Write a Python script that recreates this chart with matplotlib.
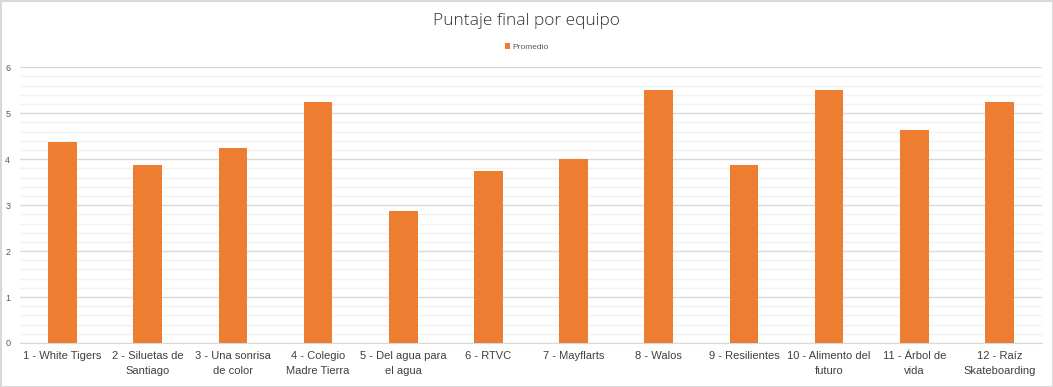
import matplotlib
matplotlib.use("Agg")
import matplotlib.pyplot as plt
from matplotlib.ticker import MultipleLocator
from matplotlib.patches import Rectangle

categories = ["1 - White Tigers", "2 - Siluetas de\nSantiago", "3 - Una sonrisa\nde color",
              "4 - Colegio\nMadre Tierra", "5 - Del agua para\nel agua", "6 - RTVC",
              "7 - Mayflarts", "8 - Walos", "9 - Resilientes", "10 - Alimento del\nfuturo",
              "11 - Árbol de\nvida", "12 - Raíz\nSkateboarding"]
promedio = [4.375, 3.875, 4.25, 5.25, 2.875, 3.75, 4.0, 5.5, 3.875, 5.5, 4.625, 5.25]
series_name = "Promedio"
title = "Puntaje final por equipo"

plt.rcParams['font.family'] = ['Liberation Sans', 'DejaVu Sans']

fig = plt.figure(figsize=(10.53, 3.87), dpi=100)
ax = fig.add_axes([20/1053, 1-343/387, 1022/1053, (343-67.3)/387])

x = list(range(len(categories)))
ax.bar(x, promedio, width=0.335, color="#ED7D31", label=series_name, zorder=3)

ax.set_xlim(-0.5, len(categories)-0.5)
ax.set_ylim(0, 6)
ax.yaxis.set_major_locator(MultipleLocator(1))
ax.yaxis.set_minor_locator(MultipleLocator(0.2))
ax.grid(which='major', axis='y', color='#d9d9d9', linewidth=1.0, zorder=0)
ax.grid(which='minor', axis='y', color='#f2f2f2', linewidth=1.0, zorder=0)
ax.set_xticks(x)
ax.set_xticklabels(categories, fontsize=8, color='#404040', linespacing=1.55)
ax.tick_params(axis='x', length=0, pad=6)
ax.tick_params(axis='y', which='both', length=0, labelsize=6.5, labelcolor='#595959', pad=7)
for s in ['top', 'right', 'left']:
    ax.spines[s].set_visible(False)
ax.spines['bottom'].set_color('#d9d9d9')

fig.text(0.5, 1-21/387, title, ha='center', va='center', fontsize=12.5, color='#333333',
         family=['Open Sans', 'DejaVu Sans'], fontweight='light')
leg = fig.legend(loc='center', bbox_to_anchor=(0.5, 1-47/387), frameon=False, fontsize=6,
                 handlelength=0.6, handleheight=0.6, handletextpad=0.3, labelcolor='#595959')

fig.patches.append(Rectangle((0.5/1053, 0.5/387), 1-1/1053, 1-1/387, transform=fig.transFigure,
                             fill=False, edgecolor='#d9d9d9', linewidth=1.5))

fig.savefig("out.png", dpi=100)
